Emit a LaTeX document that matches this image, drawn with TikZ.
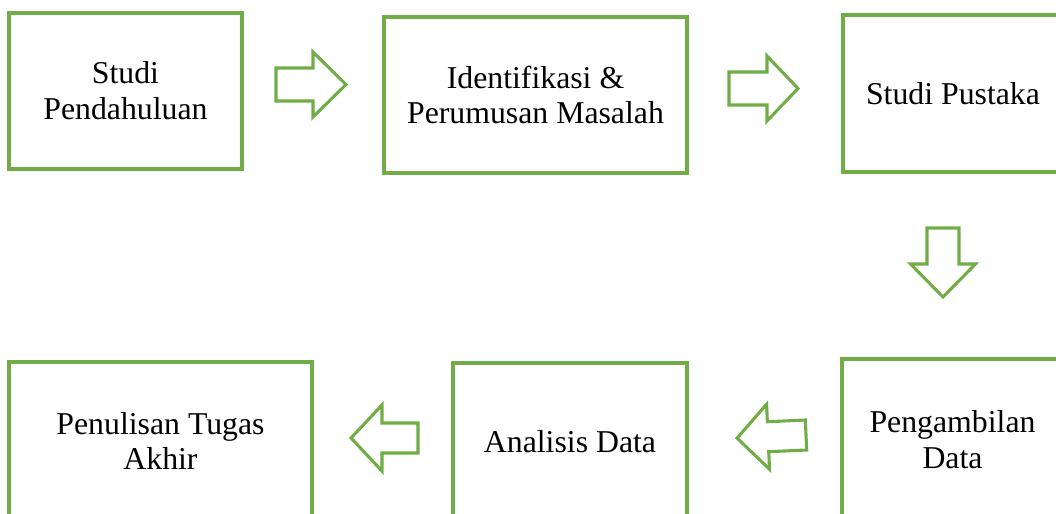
\documentclass[tikz,border=0pt]{standalone}
\usepackage{fontspec}
\setmainfont{Liberation Serif}
\definecolor{boxgreen}{HTML}{70AD47}
\newcommand{\blockarrow}[7]{% x, y, angle, length, shaft half, head half, head length
  \draw[arrowline,shift={(#1,#2)},rotate=#3]
    (0,-#5) -- (#4-#7,-#5) -- (#4-#7,-#6) -- (#4,0) -- (#4-#7,#6) -- (#4-#7,#5) -- (0,#5) -- cycle;
}
\begin{document}
\begin{tikzpicture}[x=0.025cm,y=-0.025cm,
  boxline/.style={draw=boxgreen,line width=2.6pt},
  arrowline/.style={draw=boxgreen,line width=2.2pt,line join=miter},
  label/.style={align=center,font=\fontsize{22.6pt}{25.5pt}\selectfont}]
\clip (0,0) rectangle (1056,513);

% Top row
\draw[boxline] (9,13) rectangle (242,169) node[midway,label] (pend) {Studi\\Pendahuluan};
\draw[boxline] (384,17) rectangle (687,173) node[midway,label] (ident) {Identifikasi \&\\Perumusan Masalah};
\draw[boxline] (843,15) rectangle (1063,172) node[midway,label] (pustaka) {Studi Pustaka};

% Bottom row
\draw[boxline] (9,362) rectangle (312,520) node[midway,label] (tulis) {Penulisan Tugas\\Akhir};
\draw[boxline] (453,363) rectangle (687,520) node[midway,label] (analisis) {Analisis Data};
\draw[boxline] (842,359) rectangle (1063,520) node[midway,label] (ambil) {Pengambilan\\Data};

% Block arrows
\blockarrow{276}{84.5}{0}{70}{16.5}{32.5}{33}
\blockarrow{729}{88.5}{0}{69}{16.5}{32.5}{31}
\blockarrow{943}{228}{-90}{69}{16}{32.5}{33}
\blockarrow{806}{435}{182.6}{69}{15}{32.5}{31}
\blockarrow{418}{438}{180}{67}{15}{33}{31}

\end{tikzpicture}
\end{document}
